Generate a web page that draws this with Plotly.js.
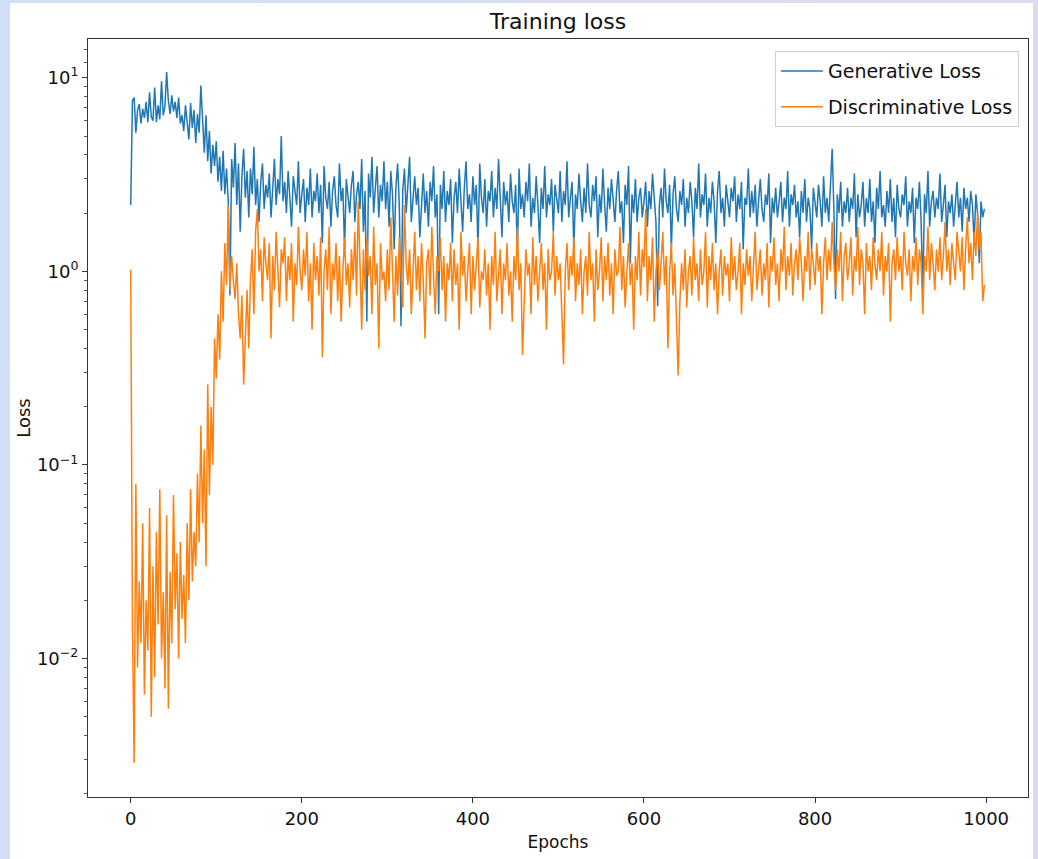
<!DOCTYPE html>
<html>
<head>
<meta charset="utf-8">
<script src="https://cdn.plot.ly/plotly-3.0.1.min.js"></script>
<style>
  html, body { margin: 0; padding: 0; }
  body { width: 1038px; height: 859px; position: relative; overflow: hidden;
         background: linear-gradient(100deg, #cfe0f6 0%, #d8dcf2 40%, #dcdcf0 100%); }
  #paper { position: absolute; left: 10px; top: 3px; width: 1023px; height: 856px; background: #ffffff; }
  #chart { position: absolute; left: 0; top: 0; width: 1038px; height: 859px; }
</style>
</head>
<body>
<div id="paper"></div>
<div id="chart"></div>
<script>
// Loss values, one reading every 2 epochs (epoch 0, 2, 4, ... 998)
const generativeLoss = [
  2.2, 7.6, 7.9, 5.2, 6.8, 7.3, 5.8, 6.9, 6.2, 7.5,
  5.9, 8.4, 6.3, 6.0, 8.9, 5.9, 7.2, 6.1, 9.6, 6.4,
  7.1, 10.7, 7.6, 6.5, 8.1, 6.7, 7.5, 6.2, 7.9, 5.8,
  6.4, 5.3, 7.2, 6.0, 4.8, 7.4, 5.5, 6.8, 4.6, 6.5,
  5.2, 9.1, 6.0, 4.1, 6.4, 3.7, 5.3, 3.2, 4.5, 3.5,
  4.7, 2.9, 3.9, 2.6, 4.2, 2.5, 3.4, 2.3, 0.75, 3.8,
  2.7, 4.6, 2.2, 3.6, 1.6, 3.1, 4.3, 2.4, 3.3, 1.9,
  3.4, 2.5, 4.4, 2.2, 3.0, 1.8, 2.9, 3.6, 2.1, 2.8,
  2.4, 3.2, 1.9, 2.7, 3.8, 2.2, 3.0, 2.5, 5.0, 2.3,
  2.9, 2.0, 3.3, 2.4, 1.7, 3.1, 2.6, 2.2, 3.7, 2.0,
  2.5, 3.0, 1.8, 2.7, 2.2, 3.4, 1.9, 2.6, 2.3, 3.2,
  2.0, 2.8, 1.4, 3.5, 2.4, 2.1, 2.9, 1.7, 2.6, 3.1,
  2.2, 1.9, 3.6, 2.3, 2.7, 1.3, 3.0, 2.4, 2.0, 2.8,
  3.3, 1.8, 2.5, 2.9, 2.1, 3.8, 1.6, 2.6, 0.55, 3.2,
  2.4, 3.9, 2.0, 2.7, 3.5, 1.9, 2.8, 2.3, 3.7, 2.1,
  2.9, 1.7, 3.3, 2.5, 1.3, 2.7, 3.6, 2.2, 0.52, 2.6,
  3.4, 2.0, 2.8, 3.9, 1.8, 2.5, 3.1, 2.2, 2.7, 1.5,
  2.4, 3.2, 2.0, 2.6, 1.7, 2.9, 2.3, 3.5, 1.9, 2.5,
  0.6, 2.8, 2.1, 3.3, 1.8, 2.6, 2.2, 3.0, 1.4, 2.4,
  2.9, 2.0, 3.4, 2.3, 1.6, 2.7, 3.7, 2.1, 2.5, 1.8,
  3.1, 2.2, 2.8, 1.3, 3.6, 2.4, 2.0, 3.0, 1.7, 2.6,
  2.3, 3.3, 1.9, 2.7, 2.1, 3.8, 2.4, 1.5, 2.9, 2.2,
  2.6, 1.8, 3.2, 2.3, 2.0, 2.8, 1.2, 3.4, 2.1, 2.5,
  1.9, 2.9, 2.3, 3.6, 1.7, 2.4, 2.0, 3.1, 2.2, 1.4,
  2.7, 2.1, 3.5, 1.9, 2.5, 2.2, 3.0, 1.6, 2.8, 2.3,
  2.0, 3.3, 1.8, 2.6, 2.2, 3.7, 1.9, 2.4, 2.9, 1.3,
  2.5, 2.1, 3.2, 2.3, 1.8, 2.7, 2.0, 3.6, 2.2, 1.9,
  2.8, 2.3, 3.1, 1.5, 2.5, 2.0, 3.4, 2.2, 1.6, 2.7,
  2.1, 3.0, 2.4, 1.8, 2.6, 3.3, 2.0, 2.3, 1.4, 2.8,
  2.2, 3.5, 1.1, 2.5, 2.0, 3.0, 1.8, 2.4, 2.7, 1.9,
  2.3, 2.9, 1.7, 2.6, 2.1, 3.2, 2.4, 1.8, 0.66, 2.2,
  2.7, 1.9, 3.4, 2.3, 2.0, 2.8, 1.3, 2.5, 3.1, 2.1,
  1.8, 2.6, 2.2, 3.0, 1.7, 2.4, 2.0, 2.9, 2.3, 1.5,
  2.7, 2.1, 3.6, 1.9, 2.5, 2.2, 3.2, 1.7, 2.4, 2.0,
  2.9, 2.3, 1.4, 2.6, 3.3, 2.0, 2.4, 1.7, 2.8, 2.2,
  1.9, 2.7, 2.3, 3.1, 1.8, 2.5, 2.1, 2.9, 1.3, 2.4,
  2.2, 3.4, 1.9, 2.6, 2.0, 2.8, 1.7, 2.3, 3.0, 2.1,
  1.8, 2.5, 2.2, 3.2, 1.4, 2.4, 2.0, 2.7, 1.9, 2.3,
  2.9, 1.8, 2.4, 2.1, 3.3, 1.7, 2.5, 2.2, 2.8, 1.9,
  2.3, 1.5, 2.6, 2.0, 3.0, 1.8, 2.4, 2.1, 1.3, 2.7,
  2.2, 1.9, 2.8, 2.3, 1.7, 3.1, 2.0, 2.4, 1.8, 2.6,
  4.3, 2.1, 0.72, 2.5, 2.0, 2.9, 1.7, 2.3, 2.0, 2.7,
  1.8, 2.4, 2.1, 3.2, 1.5, 2.5, 1.9, 2.2, 2.9, 1.7,
  2.4, 2.0, 3.0, 1.8, 2.3, 1.4, 2.7, 2.1, 3.3, 1.9,
  2.2, 1.7, 2.6, 2.0, 3.0, 1.8, 2.4, 1.5, 2.8, 2.1,
  1.9, 2.5, 2.2, 3.1, 1.7, 2.3, 2.0, 2.7, 1.4, 2.4,
  2.1, 2.9, 1.8, 0.78, 2.5, 2.0, 3.3, 1.7, 2.3, 2.6,
  1.9, 2.4, 2.1, 3.2, 1.8, 2.2, 2.8, 1.5, 2.3, 2.0,
  2.5, 1.7, 2.2, 2.9, 1.9, 2.4, 1.6, 2.7, 2.1, 2.4,
  1.8, 2.6, 2.2, 1.4, 2.5, 2.0, 1.1, 2.3, 1.9, 2.1
];

const discriminativeLoss = [
  1.02, 0.015, 0.0029, 0.08, 0.009, 0.025, 0.012, 0.05, 0.0065, 0.02,
  0.011, 0.06, 0.005, 0.03, 0.008, 0.045, 0.015, 0.075, 0.01, 0.022,
  0.007, 0.055, 0.0055, 0.028, 0.012, 0.07, 0.018, 0.035, 0.01, 0.04,
  0.016, 0.027, 0.012, 0.05, 0.02, 0.075, 0.025, 0.045, 0.03, 0.09,
  0.04, 0.16, 0.05, 0.12, 0.03, 0.26, 0.07, 0.2, 0.1, 0.45,
  0.28, 0.6, 0.35, 1.0, 0.55, 1.4, 0.85, 2.2, 0.8, 1.2,
  0.9, 0.72, 1.1, 0.6, 0.45, 0.75, 0.26, 0.5, 0.8, 0.4,
  0.9, 1.3, 0.6, 1.6, 2.1, 1.0, 1.3, 0.7, 1.5, 1.1,
  0.9, 1.4, 0.45, 1.2, 0.8, 1.6, 1.0, 0.65, 1.3, 1.1,
  1.5, 0.7, 1.2, 0.9, 1.4, 0.55, 1.1, 0.85, 1.7, 1.0,
  0.8, 1.3, 0.95, 1.6, 0.7, 1.1, 0.5, 1.4, 0.9, 1.2,
  0.75, 1.5, 0.36, 1.0, 1.3, 0.8, 1.7, 0.6, 1.1, 0.9,
  1.4, 0.7, 1.2, 0.55, 1.0, 1.5, 0.85, 1.1, 0.65, 1.3,
  0.9, 1.6, 0.75, 2.3, 1.1, 0.5, 1.3, 0.8, 1.5, 0.95,
  1.2, 0.6, 1.7, 0.85, 1.1, 0.4, 1.4, 0.9, 1.0, 0.7,
  1.3, 0.8, 1.9, 0.95, 0.55, 1.2, 0.75, 1.5, 1.0, 0.65,
  2.2, 1.1, 0.85, 1.3, 0.6, 1.0, 1.6, 0.8, 1.2, 0.7,
  1.4, 0.9, 0.45, 1.1, 1.3, 0.75, 1.7, 0.95, 0.6, 1.2,
  1.0, 1.5, 0.8, 1.2, 0.55, 1.1, 0.9, 1.4, 0.7, 1.3,
  0.85, 1.1, 0.5, 1.6, 0.95, 1.2, 0.7, 1.0, 1.4, 0.6,
  1.2, 0.8, 1.1, 1.5, 0.65, 1.0, 0.9, 1.3, 0.75, 1.1,
  0.5, 1.2, 0.85, 1.6, 0.7, 1.0, 1.3, 0.6, 1.1, 0.9,
  1.4, 0.75, 1.0, 0.55, 1.2, 0.9, 1.7, 0.8, 1.1, 0.37,
  0.7, 1.3, 0.95, 1.1, 0.6, 1.5, 0.85, 1.2, 0.7, 1.0,
  1.4, 0.8, 1.1, 0.5, 1.3, 0.9, 1.0, 1.6, 0.75, 1.2,
  0.9, 1.1, 0.65, 0.33, 1.0, 1.4, 0.8, 1.2, 0.95, 1.5,
  0.7, 1.1, 0.85, 1.3, 0.6, 1.0, 1.2, 0.75, 1.6, 0.9,
  1.1, 0.55, 1.3, 0.8, 1.0, 1.5, 0.7, 1.2, 0.9, 1.4,
  0.75, 1.1, 0.6, 1.3, 0.95, 1.0, 1.7, 0.8, 1.2, 0.65,
  1.0, 1.4, 0.85, 1.1, 0.5, 1.2, 0.9, 1.6, 0.75, 1.3,
  1.05, 2.1, 0.7, 1.2, 0.9, 1.5, 0.55, 1.0, 1.3, 0.8,
  1.1, 1.6, 0.85, 1.2, 0.4, 1.0, 1.4, 0.75, 1.1, 0.6,
  0.29, 0.7, 1.1, 0.8, 1.3, 0.65, 1.0, 1.2, 0.75, 1.5,
  0.9, 1.1, 0.7, 1.3, 0.85, 1.0, 1.6, 0.65, 1.2, 0.9,
  1.4, 0.8, 1.1, 0.6, 1.0, 1.3, 0.75, 1.2, 0.95, 1.1,
  0.7, 1.5, 0.9, 1.2, 0.8, 1.0, 1.4, 0.6, 1.1, 0.85,
  1.3, 0.95, 1.2, 0.7, 1.1, 1.6, 0.8, 1.0, 1.3, 0.75,
  1.1, 0.9, 1.4, 0.65, 1.2, 1.0, 1.5, 0.85, 1.1, 0.7,
  1.3, 1.0, 1.7, 0.8, 1.2, 0.95, 1.4, 0.75, 1.1, 1.3,
  0.9, 1.5, 1.1, 0.7, 1.2, 1.0, 1.6, 0.8, 1.3, 1.1,
  0.85, 1.4, 1.0, 1.2, 0.6, 1.1, 1.5, 0.9, 1.3, 1.0,
  1.8, 1.1, 0.8, 1.3, 1.0, 1.6, 0.7, 1.2, 1.4, 0.9,
  1.1, 1.5, 0.75, 1.2, 1.0, 1.7, 0.85, 1.3, 1.1, 0.6,
  1.4, 1.0, 1.2, 0.8, 1.5, 1.1, 0.9, 1.3, 1.0, 1.6,
  0.75, 1.2, 1.0, 1.4, 0.55, 1.1, 1.3, 0.9, 1.5, 1.0,
  1.2, 0.8, 1.6, 1.1, 0.95, 1.3, 0.7, 1.2, 1.0, 1.5,
  0.85, 1.3, 1.1, 0.6, 1.2, 1.0, 1.7, 0.9, 1.4, 1.1,
  0.8, 1.3, 1.0, 1.5, 0.9, 1.2, 1.8, 1.0, 1.3, 0.85,
  1.4, 1.1, 0.9, 1.6, 1.2, 1.0, 1.5, 0.8, 1.3, 1.9,
  1.1, 1.4, 0.9, 1.6, 1.2, 2.0, 1.3, 1.6, 0.7, 0.85
];

const xTickValues = [0, 200, 400, 600, 800, 1000];
const yTickValues = [0.01, 0.1, 1, 10];
const yTickLabels = ['10<sup>\u22122</sup>', '10<sup>\u22121</sup>', '10<sup>0</sup>', '10<sup>1</sup>'];
const yMinorTicks = [0.002,0.003,0.004,0.005,0.006,0.007,0.008,0.009,
                     0.02,0.03,0.04,0.05,0.06,0.07,0.08,0.09,
                     0.2,0.3,0.4,0.5,0.6,0.7,0.8,0.9,
                     2,3,4,5,6,7,8,9,12,14];
const seriesNames = ['Generative Loss', 'Discriminative Loss'];
const seriesColors = ['#1f77b4', '#ff7f0e'];

const epochsG = generativeLoss.map((_, i) => i * 2);
const epochsD = discriminativeLoss.map((_, i) => i * 2);

const font = 'DejaVu Sans, Verdana, sans-serif';

const traces = [
  { x: epochsG, y: generativeLoss, type: 'scatter', mode: 'lines', name: seriesNames[0],
    legendgroup: 'g', line: { color: seriesColors[0], width: 1.5 } },
  { x: epochsD, y: discriminativeLoss, type: 'scatter', mode: 'lines', name: seriesNames[1],
    legendgroup: 'd', line: { color: seriesColors[1], width: 1.5 } }
];

const layout = {
  width: 1038, height: 859,
  paper_bgcolor: 'rgba(0,0,0,0)',
  plot_bgcolor: '#ffffff',
  margin: { l: 88, r: 10, t: 39, b: 62 },
  font: { family: font, color: '#111' },
  title: { text: 'Training loss', font: { family: font, size: 22, color: '#111' },
           x: 0.5, xref: 'paper', y: 0.975, yref: 'container', yanchor: 'middle' },
  showlegend: true,
  legend: {
    x: 0.9904, y: 0.984, xanchor: 'right', yanchor: 'top',
    bgcolor: '#ffffff', bordercolor: '#d0d0d0', borderwidth: 1,
    font: { family: font, size: 19, color: '#111' },
    itemwidth: 42,
    traceorder: 'grouped', tracegroupgap: 8
  },
  xaxis: {
    range: [-49.95, 1048.95],
    tickvals: xTickValues,
    ticks: 'outside', ticklen: 5, tickcolor: '#333', tickwidth: 1,
    showline: true, linecolor: '#333', linewidth: 1, mirror: true,
    showgrid: false, zeroline: false,
    tickfont: { family: font, size: 18, color: '#111' },
    title: { text: 'Epochs', font: { family: font, size: 17, color: '#111' }, standoff: 8 }
  },
  yaxis: {
    type: 'log',
    range: [-2.715, 1.2],
    tickmode: 'array', tickvals: yTickValues, ticktext: yTickLabels,
    ticks: 'outside', ticklen: 5, tickcolor: '#333', tickwidth: 1,
    minor: { tickmode: 'array', tickvals: yMinorTicks, ticks: 'outside', ticklen: 3, tickcolor: '#555', showgrid: false },
    showline: true, linecolor: '#333', linewidth: 1, mirror: true,
    showgrid: false, zeroline: false,
    tickfont: { family: font, size: 18, color: '#111' },
    title: { text: 'Loss', font: { family: font, size: 18, color: '#111' }, standoff: 1 }
  }
};

Plotly.newPlot('chart', traces, layout, { displayModeBar: false, staticPlot: true });
</script>
</body>
</html>
